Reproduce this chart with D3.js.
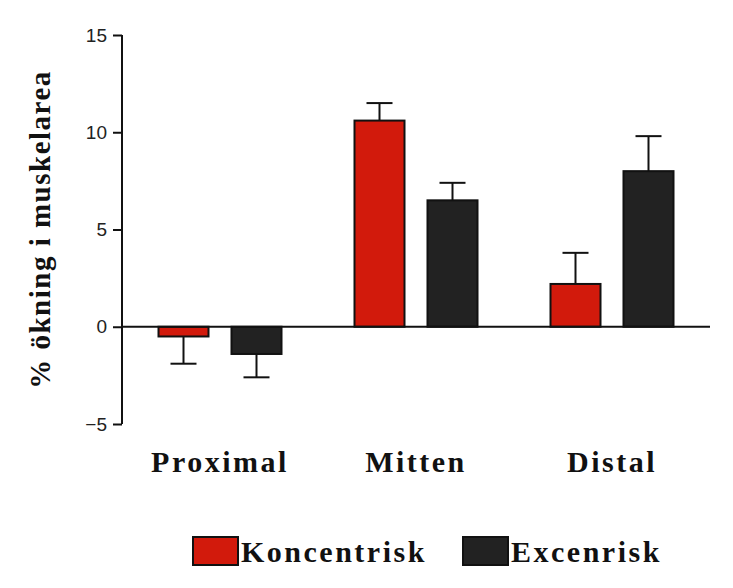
<!DOCTYPE html>
<html>
<meta charset="utf-8">
<head>
  <title>% ökning i muskelarea</title>
  <script src="https://cdn.jsdelivr.net/npm/d3@7"></script>
  <style>
    body { margin: 0; background: #fff; }
    .tick text { font-family: "Liberation Sans", Arial, sans-serif; font-size: 19px; fill: #222; }
  </style>
</head>
<body>
<svg id="chart" width="733" height="588"></svg>
<script>
  // data
  var categories = ["Proximal", "Mitten", "Distal"];
  var seriesNames = ["Koncentrisk", "Excenrisk"];
  var seriesColors = ["#d21a0c", "#222222"];
  var koncentrisk = [-0.5, 10.6, 2.2];
  var koncentriskErr = [1.4, 0.9, 1.6];
  var excenrisk = [-1.4, 6.5, 8.0];
  var excenriskErr = [1.2, 0.9, 1.8];
  var yTicks = [-5, 0, 5, 10, 15];

  var svg = d3.select("#chart");
  var pLeft = 122, pRight = 710, pTop = 35, pBottom = 424;
  var serif = "Liberation Serif, serif";

  var y = d3.scaleLinear().domain([-5, 15]).range([pBottom, pTop]);
  var x0 = d3.scaleBand().domain(categories).range([pLeft, pRight]);
  var x1 = d3.scaleBand().domain(seriesNames).range([-61.5, 61.5]).paddingInner(0.315);

  var rows = [];
  categories.forEach(function(c, i){
    rows.push({cat: c, s: 0, v: koncentrisk[i], e: koncentriskErr[i]});
    rows.push({cat: c, s: 1, v: excenrisk[i], e: excenriskErr[i]});
  });

  function bx(d){ return x0(d.cat) + x0.bandwidth()/2 + x1(seriesNames[d.s]); }

  // error bars (outward only)
  var eb = svg.append("g").attr("stroke", "#111").attr("stroke-width", 2);
  rows.forEach(function(d){
    var cx = bx(d) + x1.bandwidth()/2;
    var tip = d.v >= 0 ? d.v + d.e : d.v - d.e;
    eb.append("line").attr("x1", cx).attr("x2", cx).attr("y1", y(d.v)).attr("y2", y(tip));
    eb.append("line").attr("x1", cx - 13).attr("x2", cx + 13).attr("y1", y(tip)).attr("y2", y(tip));
  });

  svg.append("g").selectAll("rect").data(rows).enter().append("rect")
    .attr("x", bx)
    .attr("width", x1.bandwidth())
    .attr("y", function(d){ return y(Math.max(0, d.v)); })
    .attr("height", function(d){ return Math.abs(y(d.v) - y(0)); })
    .attr("fill", function(d){ return seriesColors[d.s]; })
    .attr("stroke", "#111").attr("stroke-width", 2);

  // axes
  var yAxis = svg.append("g").attr("transform", "translate(" + pLeft + ",0)")
    .call(d3.axisLeft(y).tickValues(yTicks).tickSize(9).tickPadding(6)
      .tickFormat(function(d){ return d < 0 ? "\u2212" + Math.abs(d) : d; }));
  yAxis.selectAll("path, line").attr("stroke", "#111").attr("stroke-width", 2);
  yAxis.select(".domain").attr("d", "M0," + pTop + "V" + pBottom);

  svg.append("line").attr("x1", pLeft).attr("x2", pRight).attr("y1", y(0)).attr("y2", y(0))
    .attr("stroke", "#111").attr("stroke-width", 2);

  svg.append("g").selectAll("text").data(categories).enter().append("text")
    .attr("x", function(d){ return x0(d) + x0.bandwidth()/2; })
    .attr("y", 472)
    .attr("text-anchor", "middle")
    .attr("font-family", serif).attr("font-weight", "bold").attr("font-size", 30)
    .attr("letter-spacing", 2.5)
    .attr("fill", "#111")
    .text(function(d){ return d; });

  svg.append("text")
    .attr("transform", "translate(50," + ((pTop + pBottom)/2) + ") rotate(-90)")
    .attr("text-anchor", "middle")
    .attr("font-family", serif).attr("font-weight", "bold").attr("font-size", 29)
    .attr("letter-spacing", 1.5)
    .attr("fill", "#111")
    .text("% ökning i muskelarea");

  // legend
  var legX = [193, 463];
  seriesNames.forEach(function(n, i){
    svg.append("rect").attr("x", legX[i]).attr("y", 537).attr("width", 45).attr("height", 28)
      .attr("fill", seriesColors[i]).attr("stroke", "#111").attr("stroke-width", 2);
    svg.append("text").attr("x", legX[i] + 48).attr("y", 562)
      .attr("font-family", serif).attr("font-weight", "bold").attr("font-size", 30)
      .attr("letter-spacing", 2.5)
      .attr("fill", "#111").text(n);
  });
</script>
</body>
</html>
